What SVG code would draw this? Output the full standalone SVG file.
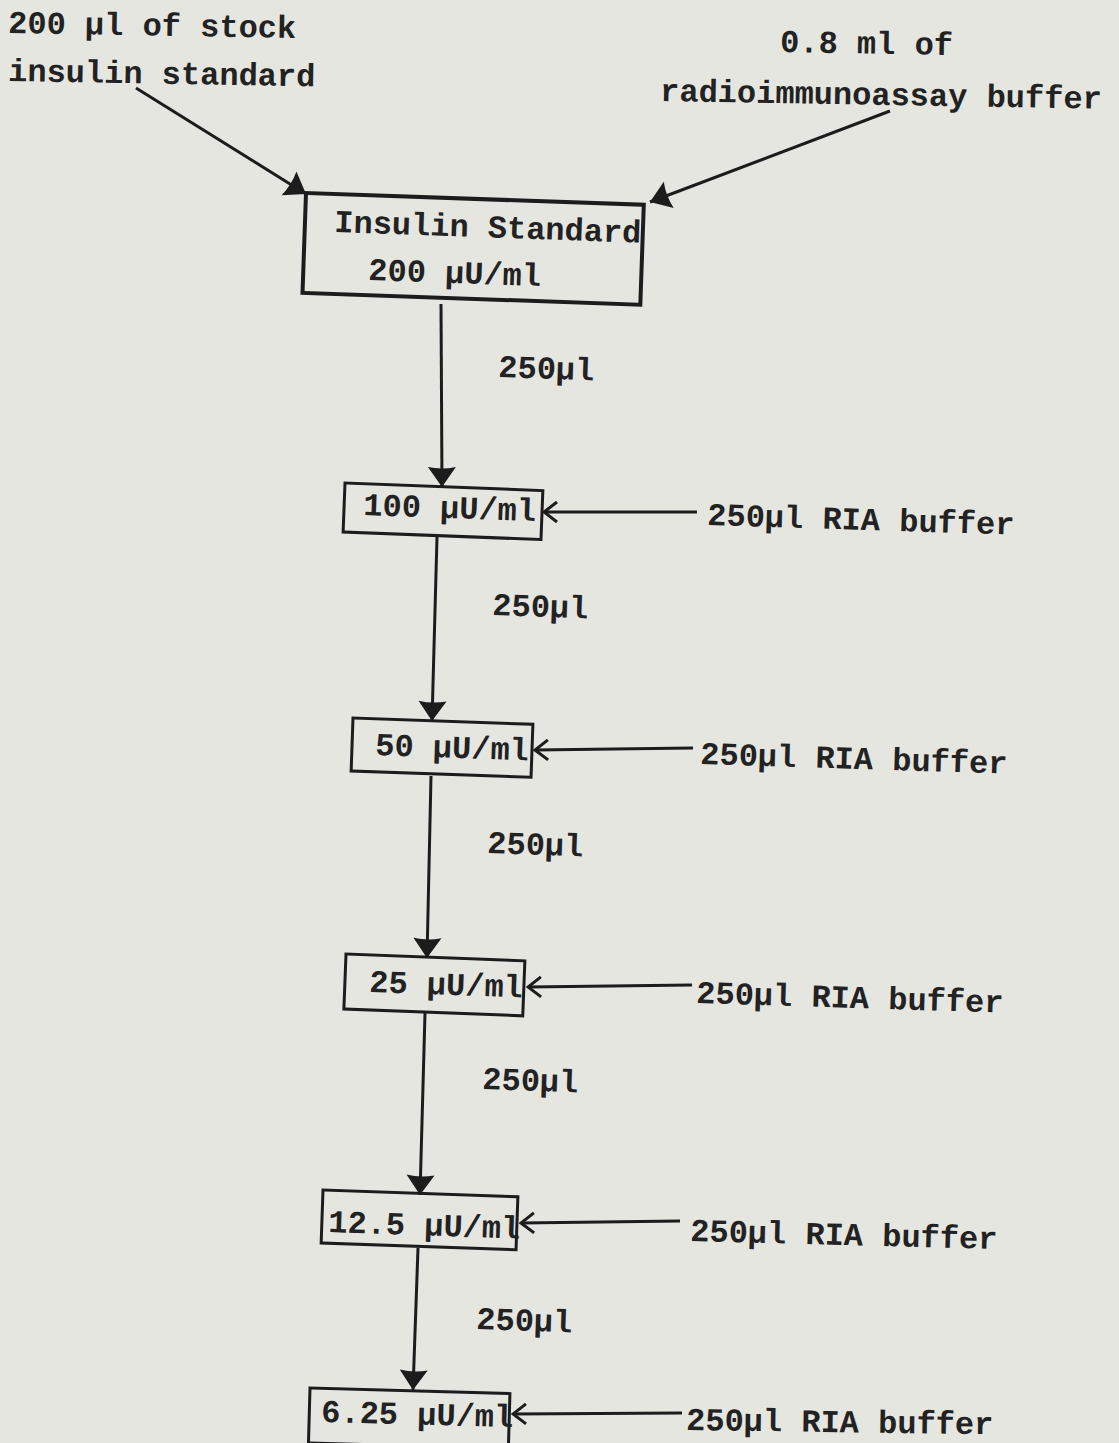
<svg xmlns="http://www.w3.org/2000/svg" width="1119" height="1443" viewBox="0 0 1119 1443">
<defs>
<marker id="fill" markerUnits="userSpaceOnUse" viewBox="-21 -15 22 30" markerWidth="22" markerHeight="30" refX="0" refY="0" orient="auto">
<path d="M0,0 L-20,-14 Q-17,0 -20,14 Z" fill="#1c1c1c"/>
</marker>
<marker id="open" markerUnits="userSpaceOnUse" viewBox="-16 -13 18 26" markerWidth="18" markerHeight="26" refX="0" refY="0" orient="auto">
<path d="M-13,-10 L0,0 L-13,10" fill="none" stroke="#1c1c1c" stroke-width="3"/>
</marker>
</defs>
<style>
text{font-family:"Liberation Mono","DejaVu Sans Mono",monospace;font-weight:bold;font-size:32px;fill:#222}
.box{fill:none;stroke:#1c1c1c;stroke-width:3}
.thick{stroke-width:4}
.c line{stroke:#1c1c1c;stroke-width:3}
.v{marker-end:url(#fill)}
.h{marker-end:url(#open)}
</style>
<rect width="1119" height="1443" fill="#e5e6df"/>
<g id="src1"><text x="8" y="33" transform="rotate(1 8 33)">200 µl of stock</text><text x="8" y="81" transform="rotate(1 8 81)">insulin standard</text></g>
<g id="src2"><text x="780" y="52" transform="rotate(1 780 52)">0.8 ml of</text><text x="660" y="101" transform="rotate(1 660 101)">radioimmunoassay buffer</text></g>
<g id="n1"><rect class="box thick" x="306" y="193" width="338" height="100" transform="rotate(2 306 193)"/><text x="334" y="232" transform="rotate(2 334 232)">Insulin Standard</text><text x="368" y="280" transform="rotate(2 368 280)">200 µU/ml</text></g>
<g id="n2"><rect class="box" x="345" y="483" width="198" height="49" transform="rotate(2.2 345 483)"/><text x="363" y="515" transform="rotate(2 363 515)">100 µU/ml</text></g>
<g id="n3"><rect class="box" x="353" y="718" width="180" height="53" transform="rotate(2 353 718)"/><text x="375" y="755" transform="rotate(2 375 755)">50 µU/ml</text></g>
<g id="n4"><rect class="box" x="346" y="954" width="179" height="55" transform="rotate(2.2 346 954)"/><text x="369" y="992" transform="rotate(2 369 992)">25 µU/ml</text></g>
<g id="n5"><rect class="box" x="323" y="1190" width="195" height="53" transform="rotate(2 323 1190)"/><text x="328" y="1232" transform="rotate(2 328 1232)">12.5 µU/ml</text></g>
<g id="n6"><rect class="box" x="310" y="1388" width="200" height="55" transform="rotate(1.6 310 1388)"/><text x="321" y="1422" transform="rotate(1.5 321 1422)">6.25 µU/ml</text></g>
<g id="labels">
<text x="498" y="377" transform="rotate(2 498 377)">250µl</text>
<text x="492" y="615" transform="rotate(2 492 615)">250µl</text>
<text x="487" y="853" transform="rotate(2 487 853)">250µl</text>
<text x="482" y="1089" transform="rotate(2 482 1089)">250µl</text>
<text x="476" y="1329" transform="rotate(2 476 1329)">250µl</text>
<text x="707" y="525" transform="rotate(1.8 707 525)">250µl RIA buffer</text>
<text x="700" y="764" transform="rotate(1.8 700 764)">250µl RIA buffer</text>
<text x="696" y="1003" transform="rotate(1.8 696 1003)">250µl RIA buffer</text>
<text x="690" y="1241" transform="rotate(1.5 690 1241)">250µl RIA buffer</text>
<text x="686" y="1430" transform="rotate(0.8 686 1430)">250µl RIA buffer</text>
</g>
<g id="connectors" class="c">
<line class="v" x1="136" y1="88" x2="306" y2="194"/>
<line class="v" x1="890" y1="111" x2="650" y2="202"/>
<line class="v" x1="441" y1="304" x2="442" y2="487"/>
<line class="v" x1="437" y1="537" x2="432" y2="721"/>
<line class="v" x1="431" y1="776" x2="427" y2="958"/>
<line class="v" x1="425" y1="1013" x2="420" y2="1195"/>
<line class="v" x1="418" y1="1248" x2="413" y2="1390"/>
<line class="h" x1="697" y1="512" x2="544" y2="512"/>
<line class="h" x1="693" y1="748" x2="535" y2="750"/>
<line class="h" x1="692" y1="985" x2="528" y2="987"/>
<line class="h" x1="680" y1="1221" x2="521" y2="1223"/>
<line class="h" x1="682" y1="1413" x2="513" y2="1414"/>
</g>
</svg>
